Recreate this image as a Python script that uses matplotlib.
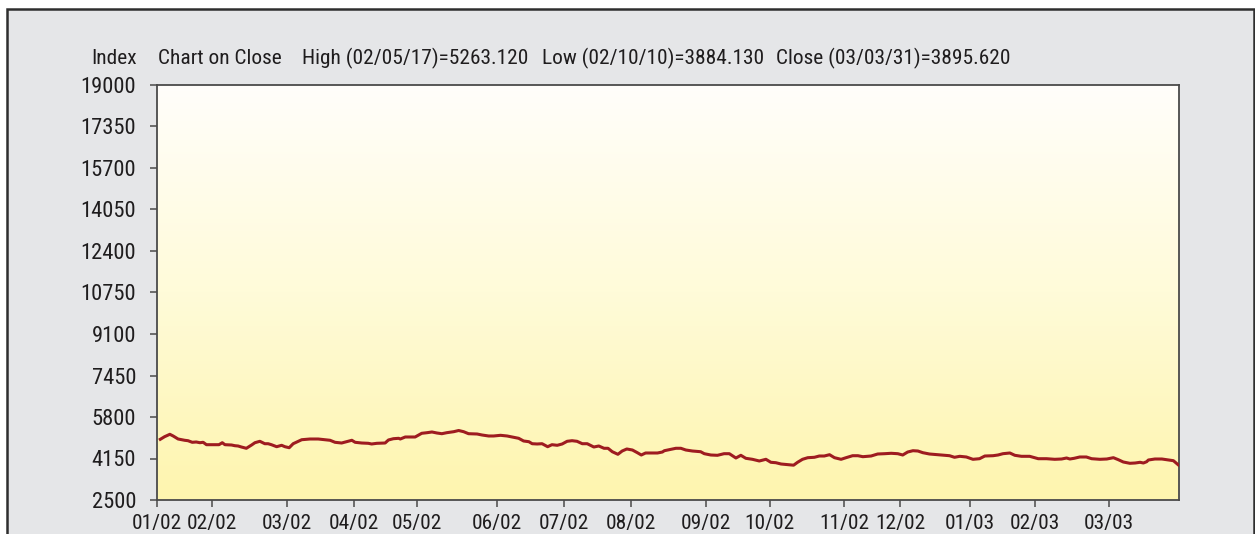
import numpy as np
import matplotlib
matplotlib.use("Agg")
import matplotlib.pyplot as plt
from matplotlib import font_manager as fm
from matplotlib.patches import Rectangle
from matplotlib.colors import LinearSegmentedColormap

# trading-day index (0 = first trading day of Jan 2002) and closing values
day_idx = [1.0, 2.3, 3.9, 4.9, 6.4, 8.4, 9.4, 10.7, 11.9, 13.0, 14.0, 15.0, 17.0, 18.8,
           19.8, 20.6, 22.6, 23.6, 24.6, 25.6, 27.1, 28.7, 29.7, 31.2, 32.7, 33.7, 34.7,
           36.3, 37.8, 38.8, 40.1, 41.3, 42.9, 43.9, 46.4, 48.9, 51.0, 52.5, 54.0, 56.0,
           57.5, 59.1, 60.1, 62.1, 64.1, 65.1, 66.7, 69.2, 70.2, 71.7, 73.3, 73.8, 75.3,
           78.3, 80.3, 81.9, 83.4, 84.9, 86.4, 87.9, 90.0, 91.5, 93.0, 94.5, 97.1, 98.6,
           100.6, 102.1, 104.2, 106.2, 108.2, 109.7, 111.2, 112.8, 113.8, 115.3, 116.8,
           118.5, 119.8, 121.4, 122.9, 124.4, 125.9, 127.4, 129.0, 130.5, 132.5, 134.0,
           135.6, 136.8, 138.1, 139.8, 141.1, 142.5, 144.2, 145.7, 146.9, 148.2, 150.2,
           151.8, 153.3, 153.9, 155.3, 157.4, 158.9, 160.4, 162.4, 164.9, 166.0, 168.0,
           170.0, 172.0, 173.6, 175.6, 177.1, 178.6, 180.6, 182.7, 184.7, 186.2, 187.7,
           189.3, 191.3, 193.1, 194.3, 195.8, 197.4, 199.4, 200.9, 202.4, 204.0, 205.5,
           207.5, 209.0, 211.0, 212.6, 214.1, 216.6, 218.6, 220.7, 222.7, 224.7, 226.2,
           227.7, 229.3, 230.8, 232.3, 234.3, 236.8, 238.9, 240.4, 241.9, 243.5, 245.5,
           247.5, 249.5, 251.1, 253.6, 255.1, 256.6, 258.7, 260.2, 262.2, 264.7, 267.3,
           269.8, 272.3, 274.4, 275.9, 276.9, 278.2, 279.9, 281.9, 283.5, 286.0, 288.1,
           290.1, 291.6, 293.1, 295.1, 296.7, 298.2, 299.2, 300.2, 300.7, 302.7, 304.8,
           306.8, 308.3, 309.8]
close_vals = [4913, 5017, 5112, 5045, 4925, 4874, 4858, 4794, 4806, 4778, 4794, 4699, 4699, 4699,
              4778, 4699, 4687, 4659, 4647, 4607, 4556, 4687, 4778, 4834, 4738, 4738, 4699,
              4619, 4675, 4619, 4579, 4738, 4834, 4897, 4925, 4925, 4897, 4874, 4794, 4766,
              4818, 4874, 4794, 4766, 4754, 4727, 4754, 4766, 4886, 4937, 4953, 4925, 5005,
              5005, 5152, 5176, 5204, 5164, 5136, 5176, 5216, 5263, 5216, 5136, 5124, 5084,
              5045, 5045, 5072, 5045, 4993, 4953, 4846, 4818, 4738, 4727, 4738,
              4619, 4699, 4675, 4727, 4834, 4858, 4834, 4738, 4738, 4607, 4647,
              4556, 4556, 4420, 4317, 4448, 4528, 4488, 4381, 4289, 4369, 4369,
              4369, 4408, 4460, 4500, 4556, 4556, 4488, 4448, 4420, 4341, 4289,
              4277, 4341, 4341, 4170, 4277, 4158, 4118, 4051, 4118, 3999, 3983,
              3931, 3904, 3884, 3999, 4118, 4182, 4198, 4249, 4249, 4301, 4182,
              4118, 4182, 4261, 4261, 4222, 4249, 4329, 4341, 4357, 4341, 4289,
              4408, 4460, 4448, 4381, 4329, 4301, 4277, 4261, 4198, 4237, 4210,
              4118, 4142, 4249, 4261, 4289, 4341, 4369, 4277, 4237, 4237, 4142,
              4142, 4118, 4130, 4170, 4130, 4158, 4210, 4210, 4142, 4118, 4130,
              4182, 4102, 4011, 3959, 3971, 3999, 3971, 4023, 4090, 4130, 4130,
              4090, 4063, 3896]

month_ticks = [0, 16.7, 39.3, 59.8, 78.9, 103.1, 123.5, 143.9, 166.5, 185.9, 208.5,
               225.5, 246.6, 266.2, 288.7]
month_labels = ["01/02", "02/02", "03/02", "04/02", "05/02", "06/02", "07/02", "08/02",
                "09/02", "10/02", "11/02", "12/02", "01/03", "02/03", "03/03"]
y_ticks = [2500, 4150, 5800, 7450, 9100, 10750, 12400, 14050, 15700, 17350, 19000]

header_parts = ["Chart on Close", "High (02/05/17)=5263.120",
                "Low (02/10/10)=3884.130", "Close (03/03/31)=3895.620"]
header_x_px = [158, 301.5, 541.5, 776.5]

# the original uses a narrow sans; take one if the machine has it
names = {f.name for f in fm.fontManager.ttflist}
narrow = [n for n in ("Liberation Sans Narrow", "Arial Narrow", "Roboto Condensed",
                      "DejaVu Sans Condensed") if n in names]
if narrow:
    plt.rcParams['font.family'] = [narrow[0], 'DejaVu Sans']
    FS = 15.4 if narrow[0] != "DejaVu Sans Condensed" else 13.5
else:
    plt.rcParams['font.family'] = ['Liberation Sans', 'DejaVu Sans']
    FS = 12.8

TXT = "#1f1d1e"
W, H = 1255, 534
fig = plt.figure(figsize=(W / 100, H / 100), dpi=100)
fig.patch.set_facecolor("white")

# grey frame panel (behind everything)
fig.patches.append(Rectangle((7 / W, -0.05), (1253.5 - 7) / W, 1 - 8.7 / H + 0.05,
                             transform=fig.transFigure, facecolor="#e5e6e8",
                             edgecolor="#2e2e2e", lw=1.8, zorder=-10))

ax = fig.add_axes([157 / W, 1 - 500 / H, (1179 - 157) / W, (500 - 85) / H])
ax.set_zorder(5)
ax.set_facecolor("none")

# vertical white -> pale yellow gradient
cmap = LinearSegmentedColormap.from_list("bg", ["#fef5ae", "#fffbd9", "#fffefb"])
grad = np.linspace(0, 1, 256).reshape(-1, 1)
ax.imshow(grad, extent=[0, 1, 0, 1], transform=ax.transAxes, origin="lower",
          aspect="auto", cmap=cmap, zorder=0)

ax.plot(day_idx, close_vals, color="#9e1c20", lw=2.2, solid_joinstyle="round", zorder=3)

ax.set_xlim(0, 310)
ax.set_ylim(2500, 19000)
ax.set_xticks(month_ticks)
ax.set_xticklabels(month_labels)
ax.set_yticks(y_ticks)
ax.set_yticklabels([str(v) for v in y_ticks])

for s in ax.spines.values():
    s.set_color("#4a4a4a")
    s.set_linewidth(1.3)
ax.tick_params(axis="both", colors="#4a4a4a", labelcolor=TXT, labelsize=FS,
               length=5, width=1.1)
ax.tick_params(axis="y", pad=10, labelsize=FS + 0.8)
ax.tick_params(axis="x", pad=5)

base_y = 1 - 64.5 / H
fig.text(137 / W, base_y, "Index", ha="right", va="baseline", fontsize=FS,
         color=TXT, zorder=6)
for txt, xp in zip(header_parts, header_x_px):
    fig.text(xp / W, base_y, txt, ha="left", va="baseline", fontsize=FS,
             color=TXT, zorder=6)

fig.savefig("out.png", dpi=100)
